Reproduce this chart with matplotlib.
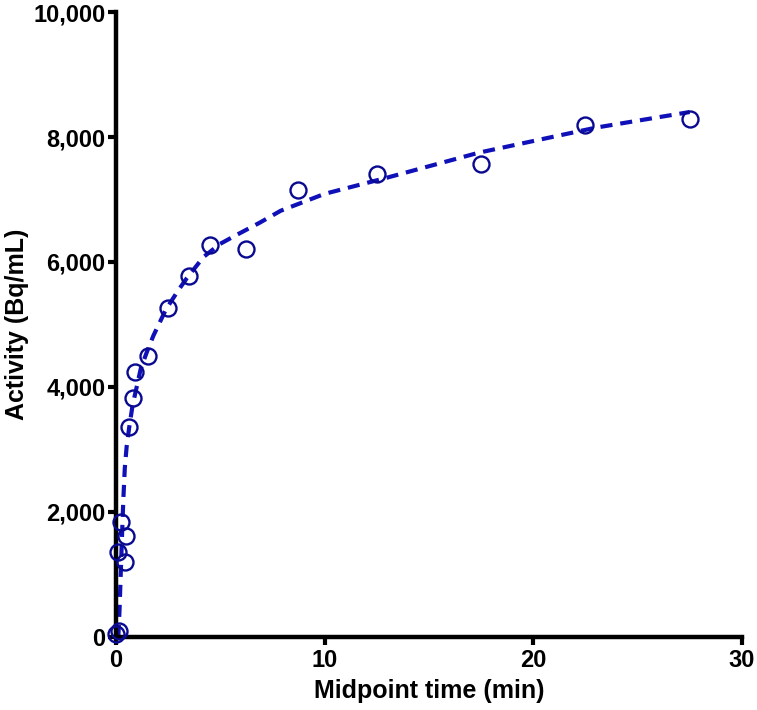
import matplotlib
matplotlib.use("Agg")
import matplotlib.pyplot as plt
from matplotlib.ticker import FuncFormatter

plt.rcParams['font.family'] = ['Liberation Sans', 'DejaVu Sans']

# measured data (midpoint time in min, activity in Bq/mL)
time_min = [0.03, 0.17, 0.11, 0.27, 0.43, 0.51, 0.64, 0.80, 0.91, 1.55,
            2.5, 3.5, 4.5, 6.25, 8.75, 12.5, 17.5, 22.5, 27.5]
activity = [40, 100, 1365, 1845, 1205, 1616, 3365, 3819, 4245, 4496,
            5264, 5776, 6272, 6208, 7152, 7408, 7568, 8192, 8288]

# fitted curve
fit_time = [0.12, 0.18, 0.24, 0.30, 0.36, 0.43, 0.52, 0.64, 0.80, 1.0, 1.2,
            1.5, 1.8, 2.4, 3.0, 3.4, 4.2, 5.0, 5.6, 6.9, 7.9, 10.0,
            13.0, 17.4, 23.0, 27.5]
fit_act = [0, 450, 1050, 1650, 2200, 2700, 3050, 3350, 3700, 4000, 4300,
           4570, 4820, 5240, 5550, 5740, 6080, 6290, 6400, 6630, 6820, 7090,
           7350, 7750, 8150, 8400]

x_ticks = [0, 10, 20, 30]
y_ticks = [0, 2000, 4000, 6000, 8000, 10000]

fig = plt.figure(figsize=(7.57, 7.10), dpi=100)
ax = fig.add_axes([0.153, 0.103, 0.827, 0.880])

ax.plot(fit_time, fit_act, color='#1010B8', lw=3.0,
        linestyle=(0, (2.9, 1.9)), zorder=2, clip_on=False,
        solid_capstyle='butt', dash_capstyle='butt')
ax.plot(time_min, activity, linestyle='none', marker='o', markersize=11.5,
        markerfacecolor='none', markeredgecolor='#0A0A90',
        markeredgewidth=1.7, zorder=3, clip_on=False)

ax.set_xlim(0, 30)
ax.set_ylim(0, 10000)
ax.set_xticks(x_ticks)
ax.set_yticks(y_ticks)
ax.yaxis.set_major_formatter(FuncFormatter(lambda v, p: f"{int(v):,}"))

for s in ['top', 'right']:
    ax.spines[s].set_visible(False)
for s in ['left', 'bottom']:
    ax.spines[s].set_linewidth(3.2)
    ax.spines[s].set_color('black')

ax.tick_params(axis='both', direction='out', length=6, width=3,
               labelsize=17, pad=1.5)
ax.tick_params(axis='x', pad=3)
for lab in ax.get_xticklabels() + ax.get_yticklabels():
    lab.set_fontweight('bold')

ax.set_xlabel('Midpoint time (min)', fontsize=18, fontweight='bold', labelpad=5)
ax.set_ylabel('Activity (Bq/mL)', fontsize=18, fontweight='bold', labelpad=3)

fig.savefig('out.png', dpi=100)
